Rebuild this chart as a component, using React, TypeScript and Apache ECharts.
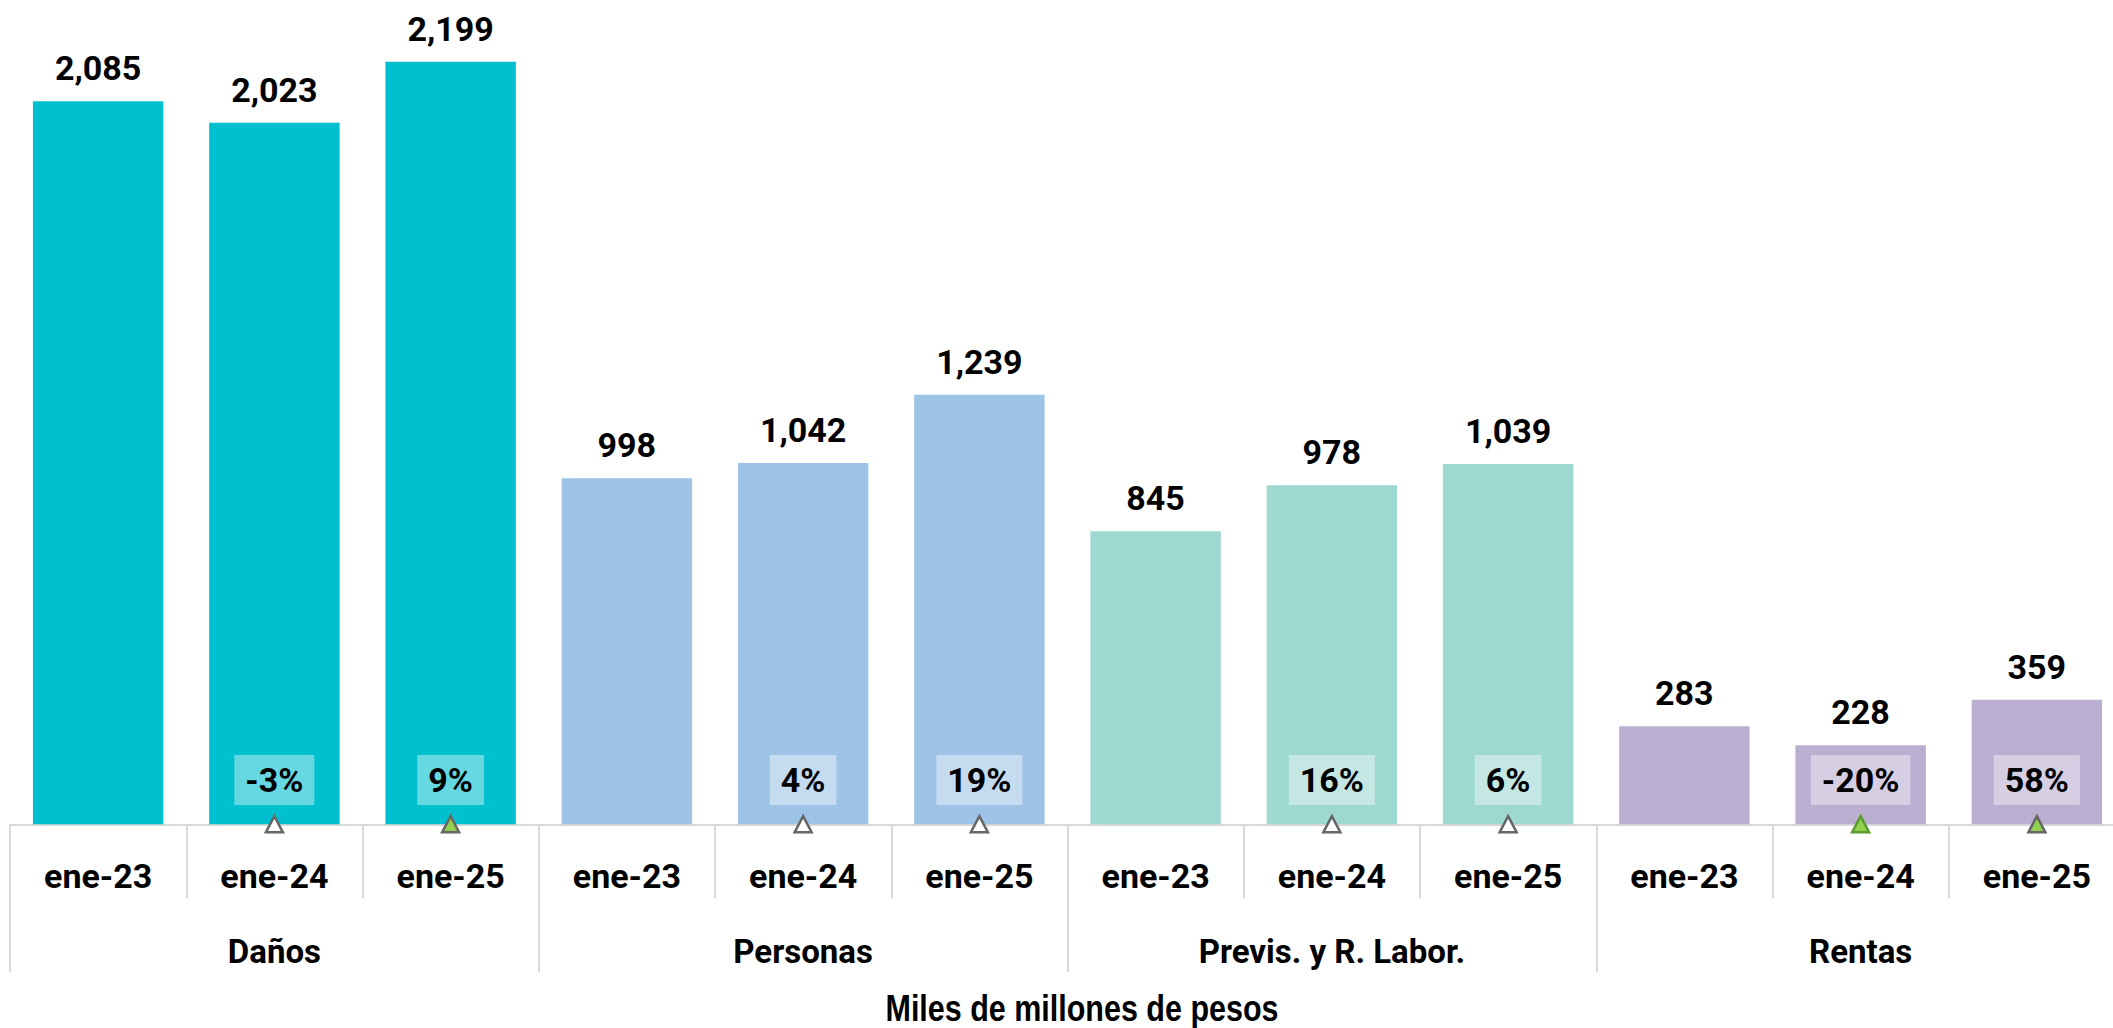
import React, { useEffect, useRef } from "react";
import * as echarts from "echarts";

const groups = ["Daños", "Personas", "Previs. y R. Labor.", "Rentas"];
const periods = ["ene-23", "ene-24", "ene-25"];
const categories = groups.flatMap(() => periods);
const values = [2085, 2023, 2199, 998, 1042, 1239, 845, 978, 1039, 283, 228, 359];
const growth: (number | null)[] = [null, -3, 9, null, 4, 19, null, 16, 6, null, -20, 58];

const groupColors = ["#00BFCF", "#9DC3E6", "#9DD8D1", "#BBAFD1"];
// triangle marker styles: [fill, border]
const markerStyles: Record<number, [string, string]> = {
  1: ["#FFFFFF", "#666666"],
  2: ["#92D050", "#666666"],
  4: ["#FFFFFF", "#666666"],
  5: ["#FFFFFF", "#666666"],
  7: ["#FFFFFF", "#666666"],
  8: ["#FFFFFF", "#666666"],
  10: ["#92D050", "#5E9B2E"],
  11: ["#92D050", "#666666"],
};

const FONT = "Roboto";

export default function App() {
  const ref = useRef<HTMLDivElement>(null);
  useEffect(() => {
    if (!ref.current) return;
    const chart = echarts.init(ref.current, undefined, { renderer: "svg" });
    chart.setOption({
      animation: false,
      backgroundColor: "#FFFFFF",
      grid: {
        left: 10,
        top: 0,
        width: 2115,
        height: 824.3,
        containLabel: false,
        outerBoundsMode: "none",
      },
      xAxis: [
        {
          type: "category",
          data: categories,
          position: "bottom",
          axisLine: { show: true, lineStyle: { color: "#D9D9D9", width: 2 } },
          axisTick: { show: true, interval: 0, length: 74, lineStyle: { color: "#D9D9D9", width: 2 } },
          axisLabel: {
            interval: 0,
            margin: 52,
            verticalAlign: "middle",
            fontFamily: FONT,
            fontWeight: "bold",
            fontSize: 34,
            color: "#000000",
          },
          splitLine: { show: false },
        },
        {
          type: "category",
          data: groups,
          position: "bottom",
          axisLine: { show: false },
          axisTick: { show: true, interval: 0, length: 148, lineStyle: { color: "#D9D9D9", width: 2 } },
          axisLabel: {
            interval: 0,
            margin: 127,
            verticalAlign: "middle",
            fontFamily: FONT,
            fontWeight: "bold",
            fontSize: 33,
            color: "#000000",
          },
          splitLine: { show: false },
        },
      ],
      yAxis: {
        type: "value",
        min: 0,
        max: 2377,
        show: false,
        splitLine: { show: false },
      },
      series: [
        {
          type: "bar",
          xAxisIndex: 0,
          barWidth: "74%",
          data: values.map((v, i) => ({
            value: v,
            itemStyle: { color: groupColors[Math.floor(i / 3)] },
          })),
          label: {
            show: true,
            position: "top",
            distance: 16,
            fontFamily: FONT,
            fontWeight: "bold",
            fontSize: 34,
            color: "#000000",
            formatter: (p: any) => Number(p.value).toLocaleString("en-US"),
          },
        },
        {
          type: "scatter",
          xAxisIndex: 0,
          symbol: "triangle",
          symbolSize: [17, 16],
          z: 5,
          itemStyle: { opacity: 1 },
          data: growth
            .map((g, i) =>
              g == null
                ? null
                : {
                    value: [i, 0, g],
                    itemStyle: {
                      color: markerStyles[i][0],
                      borderColor: markerStyles[i][1],
                      borderWidth: 2.5,
                      opacity: 1,
                    },
                  }
            )
            .filter((d) => d !== null),
          label: {
            show: true,
            position: "top",
            distance: 10,
            fontFamily: FONT,
            fontWeight: "bold",
            fontSize: 34,
            lineHeight: 34,
            color: "#000000",
            opacity: 1,
            backgroundColor: "rgba(255,255,255,0.4)",
            padding: [8, 11],
            formatter: (p: any) => `${p.value[2]}%`,
          },
        },
      ],
      graphic: [
        {
          type: "text",
          x: 1082,
          y: 1008,
          scaleX: 0.824,
          style: {
            text: "Miles de millones de pesos",
            fontFamily: "Liberation Sans",
            fontWeight: "bold",
            fontSize: 37,
            fill: "#000000",
            textAlign: "center",
            textVerticalAlign: "middle",
          },
        },
      ],
    });
    return () => chart.dispose();
  }, []);
  return (
    <div
      ref={ref}
      style={{ position: "fixed", left: 0, top: 0, width: 2113, height: 1028, overflow: "hidden" }}
    />
  );
}
